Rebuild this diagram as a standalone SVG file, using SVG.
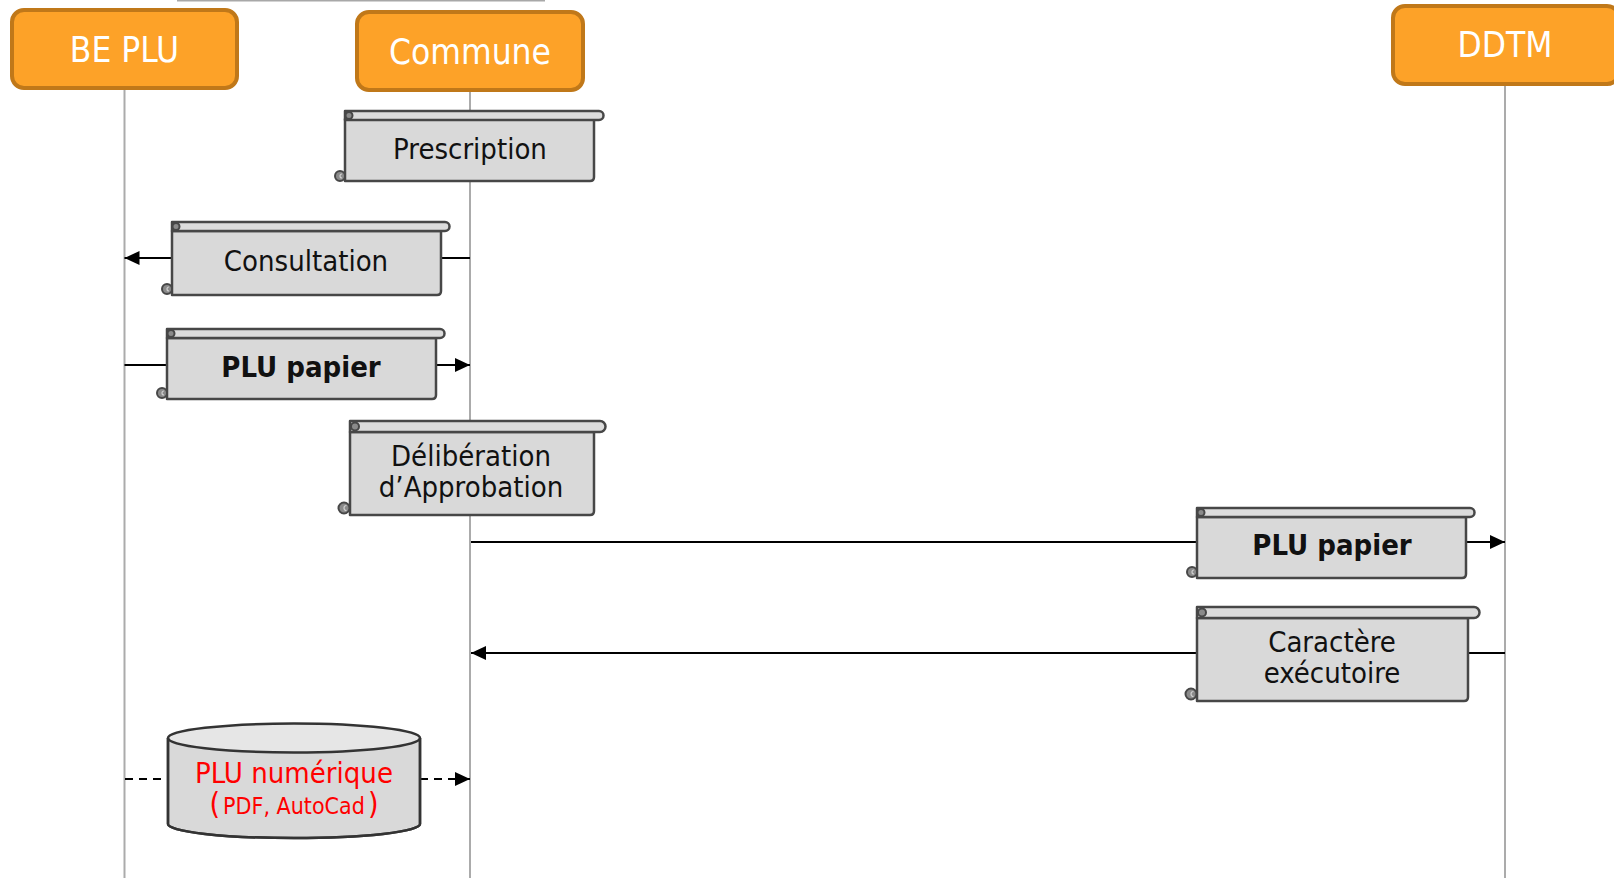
<svg xmlns="http://www.w3.org/2000/svg" width="1614" height="878" viewBox="0 0 1614 878">
<style>
.actor rect{fill:#FDA228;stroke:#C07819;stroke-width:4}
.actor text{fill:#fff;font-family:"DejaVu Sans Condensed","DejaVu Sans",sans-serif;font-stretch:condensed;font-size:35px;text-anchor:middle}
.life{stroke:#ababab;stroke-width:2;fill:none}
.conn{stroke:#000;stroke-width:2;fill:none}
.dash{stroke-dasharray:8 6}
.body{fill:#d9d9d9;stroke:#474747;stroke-width:2.5;stroke-linejoin:round}
.bar{fill:#dcdcdc;stroke:#474747;stroke-width:2.5;stroke-linejoin:round}
.curl{fill:#8a8a8a;stroke:#474747;stroke-width:2}
.sw{fill:none;stroke:#d0d0d0;stroke-width:1.2}
.lbl{fill:#111;font-family:"DejaVu Sans Condensed","DejaVu Sans",sans-serif;font-stretch:condensed;font-size:29px;text-anchor:middle}
.b{font-weight:bold}
.red{fill:#ff0000}
</style>
<defs>
<marker id="arr" markerUnits="userSpaceOnUse" markerWidth="16" markerHeight="16" refX="15" refY="7" orient="auto">
<path d="M0,0 L15,7 L0,14 Z" fill="#000"/>
</marker>
</defs>
<rect width="1614" height="878" fill="#fff"/>
<line x1="177" y1="0.5" x2="545" y2="0.5" stroke="#a8a8a8" stroke-width="2"/>

<g id="lifelines">
<line class="life" x1="124.5" y1="88" x2="124.5" y2="878"/>
<line class="life" x1="470" y1="90" x2="470" y2="878"/>
<line class="life" x1="1505" y1="84" x2="1505" y2="878"/>
</g>

<g id="connectors">
<line class="conn" x1="470" y1="258" x2="441" y2="258"/>
<line class="conn" x1="173" y1="258" x2="124.5" y2="258" marker-end="url(#arr)"/>
<line class="conn" x1="124.5" y1="365" x2="167" y2="365"/>
<line class="conn" x1="436" y1="365" x2="470" y2="365" marker-end="url(#arr)"/>
<line class="conn" x1="471" y1="542" x2="1197" y2="542"/>
<line class="conn" x1="1466" y1="542" x2="1505" y2="542" marker-end="url(#arr)"/>
<line class="conn" x1="1505" y1="653" x2="1468" y2="653"/>
<line class="conn" x1="1197" y1="653" x2="471" y2="653" marker-end="url(#arr)"/>
<line class="conn dash" x1="125" y1="779" x2="168" y2="779"/>
<line class="conn dash" x1="420" y1="779" x2="470" y2="779" marker-end="url(#arr)"/>
</g>

<g id="be-plu" class="actor">
<rect x="12" y="10" width="225" height="78" rx="12"/>
<text x="124.5" y="62">BE PLU</text>
</g>
<g id="commune" class="actor">
<rect x="357" y="12" width="226" height="78" rx="12"/>
<text x="470" y="64">Commune</text>
</g>
<g id="ddtm" class="actor">
<rect x="1393" y="6" width="226" height="78" rx="12"/>
<text x="1505" y="57">DDTM</text>
</g>

<g id="prescription">
<path class="body" d="M345,119 H594 V177 Q594,181 590,181 H345 Z"/>
<path class="bar" d="M345,111 H599 A4.5,4.5 0 0 1 599,120 H345 Z"/>
<circle class="curl" cx="349" cy="115.5" r="3.5"/>
<circle class="curl" cx="340" cy="176" r="5"/>
<path class="sw" d="M342,174 A2,2 0 1 0 342,178"/>
<text class="lbl" x="470" y="159">Prescription</text>
</g>

<g id="consultation">
<path class="body" d="M172,231 H441 V291 Q441,295 437,295 H172 Z"/>
<path class="bar" d="M172,222 H445 A4.5,4.5 0 0 1 445,231 H172 Z"/>
<circle class="curl" cx="176" cy="226.5" r="3.5"/>
<circle class="curl" cx="167" cy="289" r="5"/>
<path class="sw" d="M169,287 A2,2 0 1 0 169,291"/>
<text class="lbl" x="306" y="271">Consultation</text>
</g>

<g id="plu-papier-1">
<path class="body" d="M167,338 H436 V395 Q436,399 432,399 H167 Z"/>
<path class="bar" d="M167,329 H440 A4.5,4.5 0 0 1 440,338 H167 Z"/>
<circle class="curl" cx="171" cy="333.5" r="3.5"/>
<circle class="curl" cx="162" cy="393" r="5"/>
<path class="sw" d="M164,391 A2,2 0 1 0 164,395"/>
<text class="lbl b" x="301" y="377">PLU papier</text>
</g>

<g id="deliberation">
<path class="body" d="M350,432 H594 V511 Q594,515 590,515 H350 Z"/>
<path class="bar" d="M350,421 H600 A5.5,5.5 0 0 1 600,432 H350 Z"/>
<circle class="curl" cx="355" cy="426.5" r="4"/>
<circle class="curl" cx="344" cy="508" r="5.5"/>
<path class="sw" d="M346.5,505.5 A2.5,2.5 0 1 0 346.5,510.5"/>
<text class="lbl" x="471" y="466">Délibération</text>
<text class="lbl" x="471" y="497">d’Approbation</text>
</g>

<g id="plu-papier-2">
<path class="body" d="M1197,517 H1466 V574 Q1466,578 1462,578 H1197 Z"/>
<path class="bar" d="M1197,508 H1470 A4.5,4.5 0 0 1 1470,517 H1197 Z"/>
<circle class="curl" cx="1201" cy="512.5" r="3.5"/>
<circle class="curl" cx="1192" cy="572" r="5"/>
<path class="sw" d="M1194,570 A2,2 0 1 0 1194,574"/>
<text class="lbl b" x="1332" y="555">PLU papier</text>
</g>

<g id="caractere">
<path class="body" d="M1197,618 H1468 V697 Q1468,701 1464,701 H1197 Z"/>
<path class="bar" d="M1197,607 H1474 A5.5,5.5 0 0 1 1474,618 H1197 Z"/>
<circle class="curl" cx="1202" cy="612.5" r="4"/>
<circle class="curl" cx="1191" cy="694" r="5.5"/>
<path class="sw" d="M1193.5,691.5 A2.5,2.5 0 1 0 1193.5,696.5"/>
<text class="lbl" x="1332" y="652">Caractère</text>
<text class="lbl" x="1332" y="683">exécutoire</text>
</g>

<g id="plu-numerique">
<path class="body" d="M168,738 V824 A126,14 0 0 0 420,824 V738" style="fill:#d9d9d9"/>
<ellipse cx="294" cy="738" rx="126" ry="14.5" style="fill:#e6e6e6;stroke:#333;stroke-width:2.5"/>
<path d="M168,738 V824 A126,14 0 0 0 420,824 V738" style="fill:none;stroke:#333;stroke-width:2.5"/>
<text class="lbl red" x="294" y="783">PLU numérique</text>
<text class="lbl red" x="294" y="814"><tspan font-size="30">(</tspan><tspan font-size="23" dx="3">PDF, AutoCad</tspan><tspan font-size="30" dx="3">)</tspan></text>
</g>
</svg>
